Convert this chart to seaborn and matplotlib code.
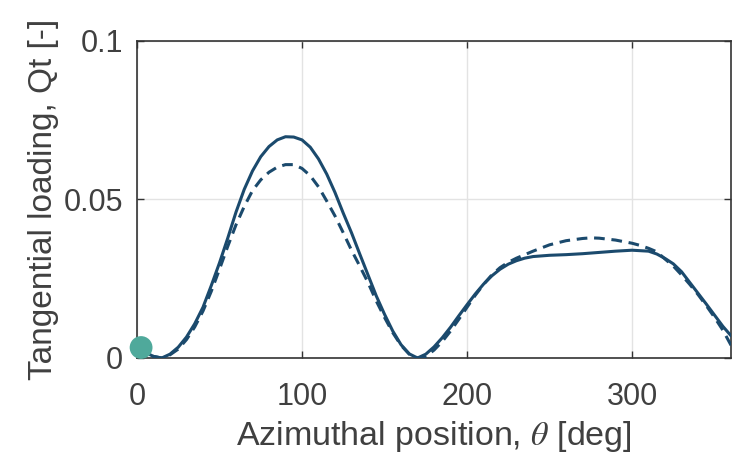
import matplotlib
matplotlib.use("Agg")
import matplotlib.pyplot as plt
import pandas as pd
import seaborn as sns

# ---------------- Data ----------------
theta_solid = [0, 5, 10, 15, 20, 25, 30, 35, 40, 45, 50, 55, 60, 65, 70, 75, 80, 85, 90, 95,
               100, 105, 110, 115, 120, 125, 130, 135, 140, 145, 150, 155, 160, 165, 170,
               175, 180, 185, 190, 195, 200, 205, 210, 215, 220, 225, 230, 235, 240,
               250, 260, 270, 280, 290, 300, 310, 315, 320, 325, 330, 335, 340, 345, 350, 355, 360]
q_solid = [0.0030, 0.0018, 0.0005, 0.0000, 0.0012, 0.0034, 0.0066, 0.0108, 0.0160, 0.0228,
           0.0300, 0.0378, 0.0460, 0.0532, 0.0590, 0.0635, 0.0667, 0.0688, 0.0698, 0.0697,
           0.0688, 0.0665, 0.0628, 0.0580, 0.0522, 0.0457, 0.0395, 0.0328, 0.0262, 0.0196,
           0.0138, 0.0085, 0.0042, 0.0013, 0.0000,
           0.0012, 0.0035, 0.0064, 0.0097, 0.0133, 0.0168, 0.0202, 0.0233, 0.0259, 0.0280,
           0.0296, 0.0307, 0.0315, 0.0320,
           0.0324, 0.0326, 0.0329, 0.0333, 0.0337, 0.0340, 0.0337, 0.0328, 0.0314, 0.0297,
           0.0272, 0.0238, 0.0204, 0.0170, 0.0135, 0.0100, 0.0070]

theta_dashed = [0, 5, 10, 15, 20, 25, 30, 35, 40, 45, 50, 55, 60, 65, 70, 75, 80, 85, 90, 95,
                100, 105, 110, 115, 120, 125, 130, 135, 140, 145, 150, 155, 160, 165, 170,
                175, 180, 185, 190, 195, 200, 205, 210, 215, 220, 225, 230, 235, 240,
                250, 260, 270, 275, 280, 290, 300, 305, 310, 315, 320, 325, 330, 335, 340,
                345, 350, 355, 360]
q_dashed = [0.0030, 0.0018, 0.0005, 0.0000, 0.0010, 0.0028, 0.0058, 0.0098, 0.0148, 0.0210,
            0.0280, 0.0352, 0.0420, 0.0478, 0.0528, 0.0562, 0.0586, 0.0602, 0.0610, 0.0610,
            0.0598, 0.0575, 0.0540, 0.0495, 0.0448, 0.0395, 0.0340, 0.0290, 0.0238, 0.0180,
            0.0128, 0.0080, 0.0040, 0.0012, 0.0000,
            0.0005, 0.0025, 0.0052, 0.0085, 0.0122, 0.0160, 0.0198, 0.0232, 0.0262, 0.0285,
            0.0302, 0.0315, 0.0326, 0.0337,
            0.0357, 0.0370, 0.0377, 0.0379, 0.0378, 0.0372, 0.0362, 0.0355, 0.0346, 0.0335,
            0.0312, 0.0290, 0.0262, 0.0232, 0.0200, 0.0165, 0.0128, 0.0088, 0.0040]

marker_theta = [2.5]
marker_q = [0.0033]

x_ticks = [0, 100, 200, 300]
y_ticks = [0, 0.05, 0.1]
y_ticklabels = ["0", "0.05", "0.1"]

line_color = "#1b4a6d"
dot_color = "#4fa99b"
text_color = "#404040"

# ---------------- Style ----------------
sns.set_style("ticks")
plt.rcParams["font.family"] = ["Liberation Sans", "DejaVu Sans"]
plt.rcParams["mathtext.fontset"] = "stix"

df_solid = pd.DataFrame({"theta": theta_solid, "q": q_solid})
df_dashed = pd.DataFrame({"theta": theta_dashed, "q": q_dashed})
df_dot = pd.DataFrame({"theta": marker_theta, "q": marker_q})

fig = plt.figure(figsize=(7.46, 4.55), dpi=100)
ax = fig.add_axes([0.1836, 0.2132, 0.7964, 0.6967])

ax.grid(True, color="#e3e3e3", linewidth=1.0, zorder=0)
sns.lineplot(data=df_dashed, x="theta", y="q", ax=ax, color=line_color,
             linewidth=2.2, linestyle=(0, (3.5, 2.2)), zorder=3)
sns.lineplot(data=df_solid, x="theta", y="q", ax=ax, color=line_color,
             linewidth=2.2, zorder=4)
sns.scatterplot(data=df_dot, x="theta", y="q", ax=ax, color=dot_color, s=270,
                edgecolor="none", zorder=6, clip_on=False)

ax.set_xlim(0, 360)
ax.set_ylim(0, 0.1)
ax.set_xticks(x_ticks)
ax.set_yticks(y_ticks)
ax.set_yticklabels(y_ticklabels)

for s in ax.spines.values():
    s.set_color("#333333")
    s.set_linewidth(1.2)
ax.tick_params(direction="in", top=True, right=True, length=5, width=1,
               color="#333333", labelsize=22, labelcolor=text_color)
ax.tick_params(axis="x", pad=17)
ax.tick_params(axis="y", pad=10)

ax.set_xlabel(r"Azimuthal position, $\mathit{\theta}$ [deg]", fontsize=24.5,
              color=text_color, labelpad=5)
ax.set_ylabel("Tangential loading, Qt [-]", fontsize=24, color=text_color, labelpad=3)

fig.savefig("out.png", dpi=100)
